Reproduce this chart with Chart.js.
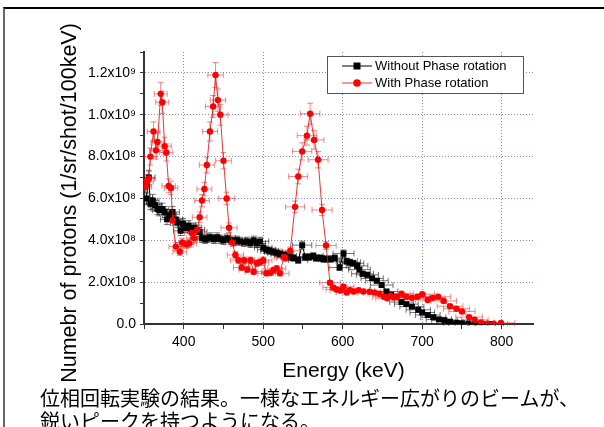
<!DOCTYPE html>
<html>
<head>
<meta charset="utf-8">
<script src="https://cdn.jsdelivr.net/npm/chart.js@4.4.0/dist/chart.umd.min.js"></script>
<style>
html,body{margin:0;padding:0;background:#fff;}
#wrap{position:relative;width:604px;height:427px;overflow:hidden;background:#fff;}
#frame{position:absolute;left:3px;top:7px;width:640px;height:460px;border-top:2px solid #000;border-left:2px solid #666;box-sizing:border-box;}
#c{position:absolute;left:0;top:0;}
.cap{position:absolute;left:40px;font-family:"Noto Sans CJK JP";font-size:20px;line-height:20px;color:#000;white-space:nowrap;}
</style>
</head>
<body>
<div id="wrap">
  <div id="frame"></div>
  <canvas id="c" width="604" height="427"></canvas>
  <div class="cap" id="cap1" style="top:388px;"></div>
  <div class="cap" id="cap2" style="top:411px;"></div>
</div>
<script>
// ---- text ----
const xTitle = "Energy (keV)";
const yTitle = "Numebr of protons (1/sr/shot/100keV)";
const seriesLabels = ["Without Phase rotation", "With Phase rotation"];
const captionLines = ["位相回転実験の結果。一様なエネルギー広がりのビームが、", "鋭いピークを持つようになる。"];
const xTickLabels = ["400", "500", "600", "700", "800"];

// ---- data: Without Phase rotation ----
const energyWithout = [353,356,358,361,364,367,369,373,376,379,382,386,390,392,396,399,402,406,409,413,417,420,423,427,430,434,438,442,446,450,455,459,463,467,471,476,480,484,488,492,496,500,504,508,513,517,521,526,530,534,538,544,549,553,558,563,567,572,576,580,585,590,596,601,605,609,613,618,621,625,631,637,643,649,655,661,667,674,680,687,695,700,707,714,721,728,735,743,750,758,766,775,785];
const countsWithout = [6.0e8,7.0e8,5.75e8,5.9e8,5.68e8,5.5e8,5.44e8,5.5e8,5.35e8,5.0e8,5.2e8,5.35e8,5.0e8,4.85e8,4.45e8,4.8e8,4.6e8,4.7e8,4.55e8,4.6e8,4.5e8,4.4e8,4.1e8,4.05e8,4.1e8,4.15e8,4.05e8,4.15e8,4.05e8,4.0e8,4.1e8,4.0e8,3.95e8,4.0e8,3.95e8,3.9e8,3.95e8,3.85e8,4.0e8,3.85e8,3.95e8,3.65e8,3.55e8,3.5e8,3.45e8,3.4e8,3.35e8,3.3e8,3.25e8,3.2e8,3.15e8,3.05e8,3.77e8,3.2e8,3.2e8,3.25e8,3.15e8,3.15e8,3.1e8,3.1e8,3.1e8,3.15e8,2.7e8,3.37e8,3.0e8,2.95e8,2.9e8,2.78e8,2.6e8,2.4e8,2.35e8,2.18e8,2.07e8,1.86e8,1.55e8,1.4e8,1.28e8,1.05e8,0.95e8,0.83e8,0.68e8,0.55e8,0.43e8,0.32e8,0.22e8,0.18e8,0.11e8,0.06e8,0.04e8,0.02e8,0.01e8,0,0];

// ---- data: With Phase rotation ----
const energyWith = [352,354,356,358,362,365,367,371,373,376,378,381,384,386,390,395,398,403,407,410,413,417,420,423,426,429,433,437,440,443,446,450,454,457,461,465,469,473,476,480,484,488,492,496,500,504,509,513,517,521,526,528,534,540,544,549,555,559,564,569,574,579,584,588,592,597,601,605,609,614,620,626,634,640,646,652,656,660,664,668,674,680,687,694,700,707,713,720,727,735,743,750,759,766,774,782,790,799];
const countsWith = [6.55e8,6.8e8,6.95e8,8.0e8,9.2e8,8.3e8,8.7e8,11.0e8,10.6e8,8.5e8,8.2e8,6.6e8,6.5e8,4.95e8,3.7e8,3.45e8,3.9e8,3.8e8,3.85e8,4.35e8,4.1e8,4.5e8,5.1e8,5.9e8,6.45e8,7.6e8,9.2e8,10.4e8,11.9e8,10.7e8,10.0e8,7.8e8,6.0e8,4.6e8,3.9e8,3.3e8,3.05e8,2.7e8,3.05e8,2.6e8,3.05e8,2.5e8,2.9e8,2.95e8,3.05e8,2.42e8,2.45e8,2.58e8,2.66e8,2.42e8,3.2e8,3.15e8,3.5e8,5.6e8,7.05e8,8.25e8,9.0e8,10.05e8,8.8e8,7.85e8,5.45e8,3.75e8,1.97e8,1.75e8,1.65e8,1.6e8,1.78e8,1.5e8,1.62e8,1.55e8,1.62e8,1.55e8,1.54e8,1.5e8,1.45e8,1.3e8,1.23e8,1.35e8,1.27e8,1.3e8,1.45e8,1.3e8,1.25e8,1.3e8,1.42e8,1.15e8,1.25e8,1.3e8,1.1e8,0.85e8,0.73e8,0.6e8,0.33e8,0.2e8,0.07e8,0.02e8,0.01e8,0.05e8];

// relative uncertainties used for the error bars
const energyResolution = 0.022;
const countUncertainty = 0.05;

const gridColor = '#8585dc';
const axisColor = '#333333';
const sansFont = '"Liberation Sans", Arial, sans-serif';

document.getElementById('cap1').textContent = captionLines[0];
document.getElementById('cap2').textContent = captionLines[1];

function sup(n) {
  const m = {'0':'⁰','1':'¹','2':'²','3':'³','4':'⁴','5':'⁵','6':'⁶','7':'⁷','8':'⁸','9':'⁹'};
  return String(n).split('').map(ch => m[ch]).join('');
}
function fmtY(v) {
  if (Math.abs(v) < 1) return '0.0';
  const e = Math.floor(Math.log10(v) + 1e-9);
  const mant = v / Math.pow(10, e);
  return mant.toFixed(1) + 'x10' + sup(e);
}

const errorBarPlugin = {
  id: 'errorBars',
  beforeDatasetsDraw(chart) {
    const {ctx, chartArea, scales} = chart;
    const xs = scales.x, ys = scales.y;
    ctx.save();
    ctx.beginPath();
    ctx.rect(chartArea.left, chartArea.top, chartArea.right - chartArea.left, chartArea.bottom - chartArea.top + 2);
    ctx.clip();
    const cap = 3;
    [0, 1].forEach(di => {
      const ds = chart.data.datasets[di];
      ctx.strokeStyle = ds.errorColor;
      ctx.lineWidth = 1;
      ds.data.forEach(p => {
        const px = xs.getPixelForValue(p.x);
        const py = ys.getPixelForValue(p.y);
        const xl = xs.getPixelForValue(p.x * (1 - energyResolution));
        const xr = xs.getPixelForValue(p.x * (1 + energyResolution));
        const yt = ys.getPixelForValue(p.y * (1 + countUncertainty));
        const yb = ys.getPixelForValue(p.y * (1 - countUncertainty));
        ctx.beginPath();
        ctx.moveTo(xl, py); ctx.lineTo(xr, py);
        ctx.moveTo(xl, py - cap); ctx.lineTo(xl, py + cap);
        ctx.moveTo(xr, py - cap); ctx.lineTo(xr, py + cap);
        ctx.moveTo(px, yt); ctx.lineTo(px, yb);
        ctx.moveTo(px - cap, yt); ctx.lineTo(px + cap, yt);
        ctx.moveTo(px - cap, yb); ctx.lineTo(px + cap, yb);
        ctx.stroke();
      });
    });
    ctx.restore();
  }
};

const decorPlugin = {
  id: 'decor',
  afterDraw(chart) {
    const ctx = chart.ctx;
    ctx.save();
    // axis titles
    ctx.fillStyle = '#000';
    ctx.font = '21px ' + sansFont;
    ctx.textAlign = 'center';
    ctx.textBaseline = 'alphabetic';
    ctx.fillText(xTitle, 343.5, 377);
    ctx.save();
    ctx.translate(76, 203);
    ctx.rotate(-Math.PI / 2);
    ctx.font = '21.5px ' + sansFont;
    ctx.fillText(yTitle, 0, 0);
    ctx.restore();
    // legend box
    const bx = 327, by = 56, bw = 196, bh = 37;
    ctx.fillStyle = '#fff';
    ctx.fillRect(bx, by, bw, bh);
    ctx.strokeStyle = '#555';
    ctx.lineWidth = 1;
    ctx.strokeRect(bx + 0.5, by + 0.5, bw, bh);
    const rows = [66, 83];
    chart.data.datasets.forEach((ds, i) => {
      const y = rows[i];
      ctx.strokeStyle = ds.borderColor;
      ctx.lineWidth = 1;
      ctx.beginPath();
      ctx.moveTo(342, y); ctx.lineTo(372, y);
      ctx.stroke();
      ctx.fillStyle = ds.pointBackgroundColor;
      if (ds.pointStyle === 'rect') {
        ctx.fillRect(357 - 3.5, y - 3.5, 7, 7);
      } else {
        ctx.beginPath();
        ctx.arc(357, y, 3.8, 0, Math.PI * 2);
        ctx.fill();
      }
      ctx.fillStyle = '#000';
      ctx.font = '13px ' + sansFont;
      ctx.textAlign = 'left';
      ctx.textBaseline = 'middle';
      ctx.fillText(ds.label, 375, y + 0.5);
    });
    ctx.restore();
  }
};

new Chart(document.getElementById('c'), {
  type: 'scatter',
  data: {
    datasets: [
      {
        label: seriesLabels[0],
        data: energyWithout.map((e, i) => ({x: e, y: countsWithout[i]})),
        showLine: true,
        borderColor: '#000',
        borderWidth: 1,
        pointStyle: 'rect',
        pointRadius: 4.2,
        pointBackgroundColor: '#000',
        pointBorderWidth: 0,
        errorColor: 'rgba(0,0,0,0.55)',
        order: 1
      },
      {
        label: seriesLabels[1],
        data: energyWith.map((e, i) => ({x: e, y: countsWith[i]})),
        showLine: true,
        borderColor: 'rgba(225,20,20,0.85)',
        borderWidth: 1,
        pointStyle: 'circle',
        pointRadius: 3.2,
        pointBackgroundColor: '#ff0000',
        pointBorderWidth: 0,
        errorColor: 'rgba(230,40,40,0.55)',
        order: 0
      }
    ]
  },
  options: {
    responsive: false,
    animation: false,
    events: [],
    layout: {padding: {left: 0, top: 52, right: 70.5, bottom: 0}},
    plugins: {legend: {display: false}, tooltip: {enabled: false}},
    scales: {
      x: {
        type: 'linear',
        min: 350, max: 840,
        afterFit: s => { s.height = 103; },
        ticks: {
          stepSize: 50,
          includeBounds: false,
          autoSkip: false,
          maxRotation: 0,
          padding: 5,
          color: '#000',
          font: {family: sansFont, size: 14},
          callback: v => (xTickLabels.includes(String(v)) ? String(v) : '')
        },
        grid: {
          color: c => (c.tick && c.tick.value % 100 === 0) ? gridColor : 'rgba(0,0,0,0)',
          tickColor: axisColor,
          tickLength: 5,
          lineWidth: 1
        },
        border: {display: true, color: axisColor, width: 2, dash: [1, 2]}
      },
      y: {
        type: 'linear',
        min: 0, max: 1.3e9,
        afterFit: s => { s.width = 144; },
        ticks: {
          stepSize: 1e8,
          autoSkip: false,
          padding: 4,
          color: '#000',
          font: {family: sansFont, size: 14},
          callback: v => (Math.round(v / 1e8) % 2 === 0 && Math.round(v / 1e8) <= 12) ? fmtY(Math.round(v / 1e8) * 1e8) : ''
        },
        grid: {
          color: c => {
            if (!c.tick) return 'rgba(0,0,0,0)';
            const k = Math.round(c.tick.value / 1e8);
            return (k > 0 && k % 2 === 0 && k <= 12) ? gridColor : 'rgba(0,0,0,0)';
          },
          tickColor: axisColor,
          tickLength: 4,
          lineWidth: 1
        },
        border: {display: true, color: axisColor, width: 2, dash: [1, 2]}
      }
    }
  },
  plugins: [errorBarPlugin, decorPlugin]
});
</script>
</body>
</html>
